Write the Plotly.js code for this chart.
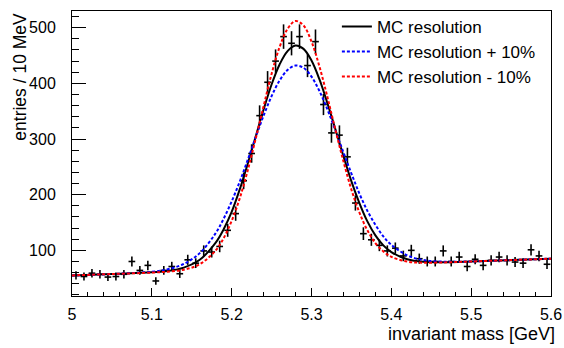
<!DOCTYPE html>
<html>
<head>
<meta charset="utf-8">
<script src="https://cdn.plot.ly/plotly-3.0.1.min.js"></script>
<style>html,body{margin:0;padding:0;background:#fff;}#chart{width:564px;height:348px;}</style>
</head>
<body>
<div id="chart"></div>
<script>
// histogram bin centres [GeV] and entries / 10 MeV
var binCenters = [5.005,5.015,5.025,5.035,5.045,5.055,5.065,5.075,5.085,5.095,
                  5.105,5.115,5.125,5.135,5.145,5.155,5.165,5.175,5.185,5.195,
                  5.205,5.215,5.225,5.235,5.245,5.255,5.265,5.275,5.285,5.295,
                  5.305,5.315,5.325,5.335,5.345,5.355,5.365,5.375,5.385,5.395,
                  5.405,5.415,5.425,5.435,5.445,5.455,5.465,5.475,5.485,5.495,
                  5.505,5.515,5.525,5.535,5.545,5.555,5.565,5.575,5.585,5.595];
var entries = [55,53,59,57,52,53,57,80,64,73,
               45,64,71,58,83,77,99,97,107,136,
               166,225,274,342,402,440,484,472,484,432,
               475,362,311,307,268,185,130,119,109,99,
               104,90,100,85,80,80,99,80,88,71,
               84,73,82,88,82,79,77,101,90,75];

// fitted curves, values
var curveX = [5.00,5.05,5.10,5.12,5.14,5.16,5.18,5.19,5.20,5.21,5.22,5.23,5.24,5.25,5.26,5.27,5.28,
              5.29,5.30,5.31,5.32,5.33,5.34,5.35,5.36,5.37,5.38,5.39,5.40,5.42,5.44,5.47,5.50,5.55,5.60];
var mcRes = [55,57.5,60.6,63,69,83,114,138,169,209,255,304,353,398,434,458,468,
             462,441,407,364,317,269,224,185,152,127,109,97,84,79.5,78.8,80,82.5,85];
var mcResPlus = [55,57.5,61.6,66,75.6,95,131,157,188,223,262,303,342,377,405,424,432,
                 428,412,386,353,315,276,238,202,171,146,125,110,91,82.6,79.5,80,82.5,85];
var mcResMinus = [55,57.5,60.1,61.7,65.3,75,100,122,153,193,243,300,359,417,465,498,512,
                  504,475,430,375,316,260,209,168,136,113,98,88.4,79.8,77.9,78.5,80,82.5,85];

var xTickVals = [5,5.1,5.2,5.3,5.4,5.5,5.6];
var xTickText = ['5','5.1','5.2','5.3','5.4','5.5','5.6'];
var yTickVals = [100,200,300,400,500];

var errY = entries.map(function(v){return Math.sqrt(v);});

var font = 'Liberation Sans, Arial, Helvetica, sans-serif';

var traces = [
  {x: binCenters, y: entries, type: 'scatter', mode: 'markers', showlegend: false,
   marker: {size: 1, color: 'rgba(0,0,0,0)'},
   error_y: {type: 'data', array: errY, visible: true, color: '#000', thickness: 1.6, width: 0},
   error_x: {type: 'constant', value: 0.0042, visible: true, color: '#000', thickness: 1.6, width: 0},
   hoverinfo: 'skip'},
  {x: curveX, y: mcRes, type: 'scatter', mode: 'lines', name: 'MC resolution',
   line: {color: '#000', width: 2, shape: 'spline', smoothing: 1}},
  {x: curveX, y: mcResPlus, type: 'scatter', mode: 'lines', name: 'MC resolution + 10%',
   line: {color: '#0000ff', width: 2, dash: '3px,2px', shape: 'spline', smoothing: 1}},
  {x: curveX, y: mcResMinus, type: 'scatter', mode: 'lines', name: 'MC resolution - 10%',
   line: {color: '#ff0000', width: 2, dash: '3px,2px', shape: 'spline', smoothing: 1}}
];

var layout = {
  width: 564, height: 348,
  margin: {l: 72, r: 13, t: 10, b: 52},
  paper_bgcolor: '#fff', plot_bgcolor: '#fff',
  font: {family: font, size: 16, color: '#000'},
  showlegend: true,
  legend: {x: 0.553, xanchor: 'left', y: 1.004, yanchor: 'top', bgcolor: 'rgba(0,0,0,0)',
           font: {family: font, size: 17, color: '#000'}, itemwidth: 30, tracegroupgap: 0},
  xaxis: {range: [5, 5.6], tickvals: xTickVals, ticktext: xTickText,
          showline: true, mirror: true, linecolor: '#000', linewidth: 1,
          ticks: 'inside', ticklen: 8, tickcolor: '#000', tickwidth: 1,
          showgrid: false, zeroline: false, ticklabelstandoff: 4,
          tickfont: {family: font, size: 16, color: '#000'},
          minor: {dtick: 0.02, tick0: 5, ticks: 'inside', ticklen: 4, tickcolor: '#000', tickwidth: 1, showgrid: false}},
  yaxis: {range: [18, 530], tickvals: yTickVals,
          showline: true, mirror: true, linecolor: '#000', linewidth: 1,
          ticks: 'inside', ticklen: 14, tickcolor: '#000', tickwidth: 1,
          showgrid: false, zeroline: false, ticklabelstandoff: 12,
          tickfont: {family: font, size: 16, color: '#000'},
          minor: {dtick: 20, tick0: 0, ticks: 'inside', ticklen: 7, tickcolor: '#000', tickwidth: 1, showgrid: false}},
  annotations: [
    {text: 'invariant mass [GeV]', xref: 'paper', yref: 'paper', x: 1.012, xanchor: 'right',
     y: -0.09, yanchor: 'top', showarrow: false, font: {family: font, size: 18, color: '#000'}},
    {text: 'entries / 10 MeV', xref: 'paper', yref: 'paper', x: -0.08, xshift: -14, xanchor: 'center',
     y: 1.0, yanchor: 'top', textangle: -90, showarrow: false, font: {family: font, size: 17.5, color: '#000'}}
  ]
};

Plotly.newPlot('chart', traces, layout, {displayModeBar: false, staticPlot: true});
</script>
</body>
</html>
